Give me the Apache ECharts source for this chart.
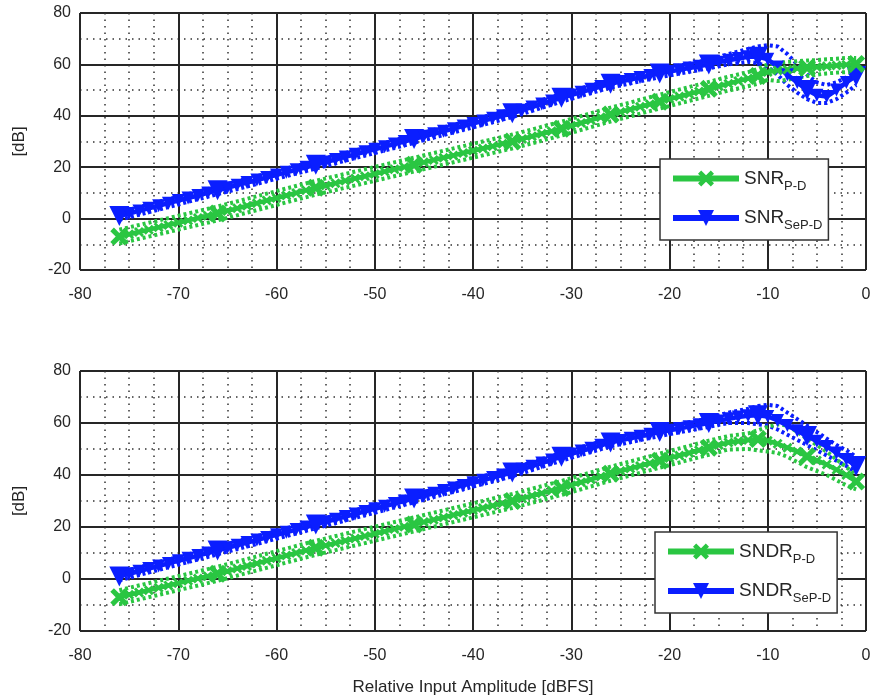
<!DOCTYPE html>
<html>
<head>
<meta charset="utf-8">
<script src="https://cdn.jsdelivr.net/npm/echarts@6/dist/echarts.min.js"></script>
<style>
html, body { margin: 0; padding: 0; background: #fff; }
#chart { width: 875px; height: 699px; }
</style>
</head>
<body>
<div id="chart"></div>
<script>
// fine sweep, 1 dB steps
var xFine = [-76,-75,-74,-73,-72,-71,-70,-69,-68,-67,
             -66,-65,-64,-63,-62,-61,-60,-59,-58,-57,
             -56,-55,-54,-53,-52,-51,-50,-49,-48,-47,
             -46,-45,-44,-43,-42,-41,-40,-39,-38,-37,
             -36,-35,-34,-33,-32,-31,-30,-29,-28,-27,
             -26,-25,-24,-23,-22,-21,-20,-19,-18,-17,
             -16,-15,-14,-13,-12,-11,-10,-9,-8,-7,
             -6,-5,-4,-3,-2,-1];
// points drawn with the big markers
var xCoarse = [-76,-66,-56,-46,-36,-31,-26,-21,-16,-11,-6,-1];
// x of the dotted min/max curves
var xBound = [-76,-71,-66,-61,-56,-51,-46,-41,-36,-31,-26,-21,-16,-14,-12,-11,-10,-9,-8,-7,-6,-5,-4,-3,-2,-1];

// top plot: SNR
var snrPD = [-7.0,-6.1,-5.2,-4.3,-3.4,-2.5,-1.6,-0.7,0.2,1.1,
             2.0,3.0,4.0,5.0,6.0,7.0,8.0,9.0,10.0,11.0,
             12.0,12.9,13.8,14.7,15.6,16.5,17.4,18.3,19.2,20.1,
             21.0,21.9,22.8,23.7,24.6,25.5,26.4,27.3,28.2,29.1,
             30.0,31.0,32.0,33.0,34.0,35.0,36.1,37.2,38.3,39.4,
             40.5,41.5,42.5,43.5,44.5,45.5,46.5,47.5,48.5,49.5,
             50.5,51.5,52.5,53.5,54.5,55.5,57.0,57.6,58.0,58.4,
             58.7,59.0,59.3,59.6,59.9,60.2];
var snrSeP = [1.0,2.0,3.0,4.0,5.0,6.0,7.0,8.0,9.0,10.0,
              11.0,12.0,13.0,14.0,15.0,16.0,17.0,18.0,19.0,20.0,
              21.0,22.0,23.0,24.0,25.0,26.0,27.0,28.0,29.0,30.0,
              31.0,32.0,33.0,34.0,35.0,36.0,37.0,38.0,39.0,40.0,
              41.0,42.2,43.4,44.6,45.8,47.0,48.1,49.2,50.3,51.4,
              52.5,53.3,54.1,54.9,55.7,56.5,57.2,57.9,58.6,59.3,
              60.0,60.8,61.6,62.3,63.0,63.0,62.0,59.0,56.0,53.0,
              50.0,48.0,47.5,50.0,53.0,55.5];
var snrPDHi = [-4.3,0.2,4.7,9.7,14.7,19.2,23.7,28.2,32.7,37.7,43.2,48.2,53.2,55.2,57.0,58.2,60.0,60.5,61.0,61.2,61.5,61.7,62.0,62.2,62.5,62.5];
var snrPDLo = [-9.7,-5.2,-0.7,4.3,9.3,13.8,18.3,22.8,27.3,32.3,37.8,42.8,47.8,49.8,51.5,52.5,54.0,53.5,54.0,54.8,55.5,56.0,56.5,56.8,57.0,57.5];
var snrSePHi = [2.5,7.5,12.5,17.5,22.5,27.5,32.5,37.5,42.5,48.5,54.0,58.0,61.8,64.0,66.0,67.0,67.5,67.0,64.0,60.0,56.0,53.0,52.0,53.0,55.0,57.5];
var snrSePLo = [-0.5,4.5,9.5,14.5,19.5,24.5,29.5,34.5,39.5,45.5,51.0,55.0,58.5,60.0,61.0,60.5,59.0,56.0,52.0,49.0,46.5,45.0,45.0,46.5,49.0,52.0];

// bottom plot: SNDR
var sndrPD = [-7.0,-6.1,-5.2,-4.3,-3.4,-2.5,-1.6,-0.7,0.2,1.1,
              2.0,3.0,4.0,5.0,6.0,7.0,8.0,9.0,10.0,11.0,
              12.0,12.9,13.8,14.7,15.6,16.5,17.4,18.3,19.2,20.1,
              21.0,21.9,22.8,23.7,24.6,25.5,26.4,27.3,28.2,29.1,
              30.0,31.0,32.0,33.0,34.0,35.0,36.1,37.2,38.3,39.4,
              40.5,41.5,42.5,43.5,44.5,45.5,46.5,47.5,48.5,49.5,
              50.5,51.5,52.5,53.0,53.5,53.8,53.2,52.0,50.5,49.0,
              47.2,45.6,44.0,42.0,40.0,37.5];
var sndrSeP = [1.0,2.0,3.0,4.0,5.0,6.0,7.0,8.0,9.0,10.0,
               11.0,12.0,13.0,14.0,15.0,16.0,17.0,18.0,19.0,20.0,
               21.0,22.0,23.0,24.0,25.0,26.0,27.0,28.0,29.0,30.0,
               31.0,32.0,33.0,34.0,35.0,36.0,37.0,38.0,39.0,40.0,
               41.0,42.2,43.4,44.6,45.8,47.0,48.1,49.2,50.3,51.4,
               52.5,53.3,54.1,54.9,55.7,56.5,57.2,57.9,58.6,59.3,
               60.0,60.8,61.6,62.3,62.8,63.0,62.5,61.0,59.0,57.0,
               55.0,53.0,51.0,48.5,46.0,43.5];
var sndrPDHi = [-4.3,0.2,4.7,9.7,14.7,19.2,23.7,28.2,32.7,37.7,43.2,48.2,53.2,55.0,56.0,57.2,58.5,59.5,59.0,56.5,54.0,51.5,49.0,46.0,43.0,40.0];
var sndrPDLo = [-9.7,-5.2,-0.7,4.3,9.3,13.8,18.3,22.8,27.3,32.3,37.8,42.8,47.8,49.8,50.0,49.5,49.0,48.5,47.0,45.0,43.0,41.5,40.0,38.0,36.0,34.5];
var sndrSePHi = [2.5,7.5,12.5,17.5,22.5,27.5,32.5,37.5,42.5,48.5,54.0,58.0,61.8,64.0,65.5,66.5,67.0,66.5,64.0,61.5,59.0,56.5,54.0,51.5,49.5,47.0];
var sndrSePLo = [-0.5,4.5,9.5,14.5,19.5,24.5,29.5,34.5,39.5,45.5,51.0,55.0,58.5,60.0,60.0,59.5,59.0,57.5,55.5,53.5,51.5,49.5,47.5,45.5,43.5,41.0];

var GREEN = '#2ac642';
var BLUE = '#0a1eff';
var DARK = '#262626';
var FONT = 'Liberation Sans';
var xMark = 'path://M0,2L2,0L5,3L8,0L10,2L7,5L10,8L8,10L5,7L2,10L0,8L3,5Z';
var triMark = 'path://M0,0L10,0L5,9Z';

function pairs(xs, ys) {
	var out = [];
	for (var i = 0; i < xs.length; i++) {
		out.push([xs[i], ys[i]]);
	}
	return out;
}

function markSize(big, small) {
	return function(v) {
		return xCoarse.indexOf(v[0]) >= 0 ? big : small;
	};
}

function boundSeries(idx, color, ys) {
	return {
		type: 'line', xAxisIndex: idx, yAxisIndex: idx,
		data: pairs(xBound, ys), showSymbol: false, silent: true,
		lineStyle: { color: color, width: 4, type: [3, 3] },
		z: 2
	};
}

function mainSeries(idx, name, color, ys, symbol, big, small) {
	return {
		name: name, type: 'line', xAxisIndex: idx, yAxisIndex: idx,
		data: pairs(xFine, ys),
		symbol: symbol, symbolSize: markSize(big, small),
		itemStyle: { color: color },
		lineStyle: { color: color, width: 4.5 },
		z: 3
	};
}

function xAx(idx) {
	return {
		type: 'value', gridIndex: idx, min: -80, max: 0, interval: 10,
		axisLine: { show: false }, axisTick: { show: false },
		axisLabel: { color: DARK, fontSize: 16, fontFamily: FONT, margin: 17 },
		splitLine: { show: true, lineStyle: { color: DARK, width: 2 } },
		minorTick: { show: false, splitNumber: 4 },
		minorSplitLine: { show: true, lineStyle: { color: '#333', width: 1.5, type: [1.5, 5] } },
		name: idx == 1 ? 'Relative Input Amplitude [dBFS]' : '',
		nameLocation: 'middle', nameGap: 48,
		nameTextStyle: { color: DARK, fontSize: 17, fontFamily: FONT }
	};
}

function yAx(idx) {
	return {
		type: 'value', gridIndex: idx, min: -20, max: 80, interval: 20,
		axisLine: { show: false }, axisTick: { show: false },
		axisLabel: { color: DARK, fontSize: 16, fontFamily: FONT, margin: 9 },
		splitLine: { show: true, lineStyle: { color: DARK, width: 2 } },
		minorTick: { show: false, splitNumber: 2 },
		minorSplitLine: { show: true, lineStyle: { color: '#333', width: 1.5, type: [1.5, 5] } },
		name: '[dB]', nameLocation: 'middle', nameGap: 52, nameRotate: 90,
		nameTextStyle: { color: DARK, fontSize: 17, fontFamily: FONT }
	};
}

function legendBox(left, top, names, main) {
	return {
		left: left, top: top, orient: 'vertical',
		data: names,
		backgroundColor: '#fff', borderColor: '#333', borderWidth: 1.5,
		padding: [10, 6, 8, 10], itemGap: 16,
		itemWidth: 66, itemHeight: 20,
		lineStyle: { width: 6 },
		formatter: function(name) {
			var sub = name.split(' ')[1];
			return '{m|' + main + '}{s|' + sub + '}';
		},
		textStyle: {
			fontFamily: FONT, color: DARK,
			rich: {
				m: { fontSize: 19, fontFamily: FONT, color: DARK },
				s: { fontSize: 13, fontFamily: FONT, color: DARK, padding: [15, 0, 0, 0] }
			}
		}
	};
}

var myChart = echarts.init(document.getElementById('chart'));
var option = {
	animation: false,
	backgroundColor: '#fff',
	grid: [
		{ left: 80, right: 9, top: 13, height: 257 },
		{ left: 80, right: 9, top: 371, height: 260 }
	],
	xAxis: [xAx(0), xAx(1)],
	yAxis: [yAx(0), yAx(1)],
	legend: [
		legendBox(660, 159, ['SNR P-D', 'SNR SeP-D'], 'SNR'),
		legendBox(655, 532, ['SNDR P-D', 'SNDR SeP-D'], 'SNDR')
	],
	series: [
		boundSeries(0, BLUE, snrSePHi),
		boundSeries(0, BLUE, snrSePLo),
		mainSeries(0, 'SNR SeP-D', BLUE, snrSeP, triMark, 20, 13),
		boundSeries(0, GREEN, snrPDHi),
		boundSeries(0, GREEN, snrPDLo),
		mainSeries(0, 'SNR P-D', GREEN, snrPD, xMark, 18, 10),
		boundSeries(1, BLUE, sndrSePHi),
		boundSeries(1, BLUE, sndrSePLo),
		mainSeries(1, 'SNDR SeP-D', BLUE, sndrSeP, triMark, 20, 13),
		boundSeries(1, GREEN, sndrPDHi),
		boundSeries(1, GREEN, sndrPDLo),
		mainSeries(1, 'SNDR P-D', GREEN, sndrPD, xMark, 18, 10)
	]
};
myChart.setOption(option);
</script>
</body>
</html>
